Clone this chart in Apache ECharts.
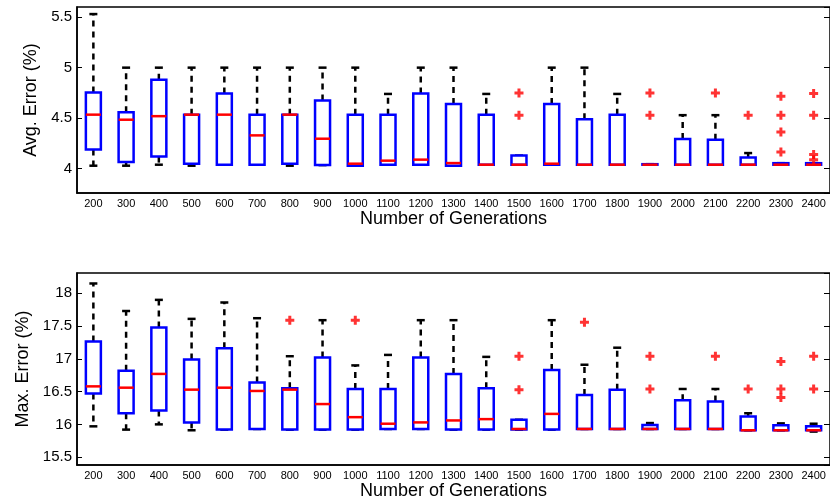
<!DOCTYPE html>
<html>
<head>
<meta charset="utf-8">
<script src="https://cdn.jsdelivr.net/npm/echarts@6/dist/echarts.min.js"></script>
<style>
html,body{margin:0;padding:0;background:#fff;}
#chart{width:830px;height:502px;}
</style>
</head>
<body>
<div id="chart"></div>
<script>
// ---- data ----
const generations = ['200','300','400','500','600','700','800','900','1000','1100','1200','1300','1400','1500','1600','1700','1800','1900','2000','2100','2200','2300','2400'];

// Avg. Error (%) box statistics
const avgLow    = [4.03, 4.03, 4.04, 4.03, 4.04, 4.04, 4.03, 4.036, 4.03, 4.04, 4.04, 4.03, 4.04, 4.04, 4.04, 4.04, 4.04, 4.04, 4.04, 4.04, 4.04, 4.04, 4.04];
const avgQ1     = [4.19, 4.066, 4.12, 4.05, 4.04, 4.04, 4.05, 4.036, 4.03, 4.04, 4.04, 4.03, 4.04, 4.04, 4.04, 4.04, 4.04, 4.04, 4.04, 4.04, 4.04, 4.04, 4.04];
const avgMedian = [4.535, 4.485, 4.52, 4.535, 4.535, 4.33, 4.535, 4.297, 4.05, 4.08, 4.09, 4.056, 4.04, 4.04, 4.05, 4.04, 4.04, 4.04, 4.04, 4.04, 4.04, 4.04, 4.04];
const avgQ3     = [4.755, 4.56, 4.88, 4.535, 4.745, 4.535, 4.535, 4.676, 4.535, 4.535, 4.745, 4.64, 4.535, 4.13, 4.64, 4.49, 4.535, 4.045, 4.294, 4.287, 4.11, 4.055, 4.055];
const avgHigh   = [5.53, 5.0, 5.0, 5.0, 5.0, 5.0, 5.0, 5.0, 5.0, 4.74, 5.0, 5.0, 4.74, 4.13, 5.0, 5.0, 4.74, 4.045, 4.53, 4.53, 4.155, 4.055, 4.055];
const avgOutlierGen = ['1500','1500','1900','1900','2100','2200','2300','2300','2300','2300','2400','2400','2400','2400'];
const avgOutlierVal = [4.75, 4.53, 4.75, 4.53, 4.75, 4.53, 4.716, 4.53, 4.363, 4.165, 4.745, 4.53, 4.14, 4.09];

// Max. Error (%) box statistics
const maxLow    = [15.97, 15.92, 16.0, 15.91, 15.92, 15.93, 15.92, 15.92, 15.92, 15.93, 15.93, 15.92, 15.92, 15.92, 15.92, 15.93, 15.93, 15.93, 15.93, 15.93, 15.91, 15.91, 15.89];
const maxQ1     = [16.47, 16.17, 16.21, 16.03, 15.92, 15.93, 15.92, 15.92, 15.92, 15.93, 15.93, 15.92, 15.92, 15.92, 15.92, 15.93, 15.93, 15.93, 15.93, 15.93, 15.91, 15.91, 15.91];
const maxMedian = [16.58, 16.56, 16.77, 16.53, 16.56, 16.51, 16.53, 16.31, 16.11, 16.01, 16.03, 16.06, 16.08, 15.93, 16.16, 15.93, 15.93, 15.93, 15.93, 15.93, 15.91, 15.91, 15.91];
const maxQ3     = [17.265, 16.82, 17.48, 16.99, 17.16, 16.64, 16.55, 17.02, 16.54, 16.54, 17.02, 16.77, 16.55, 16.07, 16.83, 16.45, 16.53, 15.99, 16.37, 16.35, 16.12, 15.985, 15.97];
const maxHigh   = [18.15, 17.73, 17.90, 17.61, 17.86, 17.62, 17.04, 17.59, 16.90, 17.06, 17.59, 17.59, 17.03, 16.07, 17.59, 16.91, 17.17, 16.02, 16.54, 16.54, 16.17, 16.015, 16.01];
const maxOutlierGen = ['800','1000','1500','1500','1700','1900','1900','2100','2200','2300','2300','2300','2400','2400'];
const maxOutlierVal = [17.59, 17.59, 17.04, 16.53, 17.56, 17.04, 16.54, 17.04, 16.54, 16.96, 16.54, 16.41, 17.04, 16.54];

const yTitles = ['Avg. Error (%)', 'Max. Error (%)'];
const xTitle = 'Number of Generations';

// ---- chart ----
const FONT = '"Liberation Sans", Arial, Helvetica, sans-serif';
const boxData = (lo, q1, md, q3, hi) => generations.map((g, i) => [i, lo[i], q1[i], md[i], q3[i], hi[i]]);
const outData = (gs, vs) => gs.map((g, i) => [g, vs[i]]);

function renderBox(params, api) {
  const i = api.value(0);
  const pLo = api.coord([i, api.value(1)]);
  const pQ1 = api.coord([i, api.value(2)]);
  const pMd = api.coord([i, api.value(3)]);
  const pQ3 = api.coord([i, api.value(4)]);
  const pHi = api.coord([i, api.value(5)]);
  const cx = pLo[0];
  const bw = 15, cw = 8;
  const dash = { stroke: '#000', lineWidth: 2.5, lineDash: [6, 5], fill: null };
  const solid = { stroke: '#000', lineWidth: 2.5, fill: null };
  const ch = [];
  if (pHi[1] < pQ3[1] - 0.5) ch.push({ type: 'line', shape: { x1: cx, y1: pQ3[1], x2: cx, y2: pHi[1] }, style: dash });
  if (pLo[1] > pQ1[1] + 0.5) ch.push({ type: 'line', shape: { x1: cx, y1: pQ1[1], x2: cx, y2: pLo[1] }, style: dash });
  ch.push({ type: 'line', shape: { x1: cx - cw / 2, y1: pHi[1], x2: cx + cw / 2, y2: pHi[1] }, style: solid });
  ch.push({ type: 'line', shape: { x1: cx - cw / 2, y1: pLo[1], x2: cx + cw / 2, y2: pLo[1] }, style: solid });
  ch.push({ type: 'rect', shape: { x: cx - bw / 2, y: pQ3[1], width: bw, height: Math.max(pQ1[1] - pQ3[1], 0.5) },
            style: { fill: '#fff', stroke: '#0000ff', lineWidth: 2.5 } });
  ch.push({ type: 'line', shape: { x1: cx - bw / 2, y1: pMd[1], x2: cx + bw / 2, y2: pMd[1] }, style: { stroke: '#ff0000', lineWidth: 2.5 } });
  return { type: 'group', children: ch };
}

const plus = 'path://M3,0H6V3H9V6H6V9H3V6H0V3H3Z';

function xAx(gi) {
  return {
    gridIndex: gi, type: 'category', data: generations, boundaryGap: true,
    axisLine: { show: true, lineStyle: { color: '#000', width: 1.5 } },
    axisTick: { show: false },
    axisLabel: { interval: 0, fontSize: 11, color: '#000', margin: 5, fontFamily: FONT },
    name: xTitle, nameLocation: 'middle', nameGap: 15,
    nameTextStyle: { fontSize: 18, color: '#000', fontFamily: FONT },
    splitLine: { show: false }
  };
}
function yAx(gi, min, max, title) {
  return {
    gridIndex: gi, type: 'value', min: min, max: max, minInterval: 0.5, maxInterval: 0.5,
    axisLine: { show: true, lineStyle: { color: '#000', width: 1.5 } },
    axisTick: { show: true, inside: true, length: 5, lineStyle: { color: '#000' } },
    axisLabel: { fontSize: 15, color: '#000', margin: 5, fontFamily: FONT, showMinLabel: false, showMaxLabel: false },
    splitLine: { show: false },
    name: title, nameLocation: 'middle', nameGap: 34, nameRotate: 90,
    nameTextStyle: { fontSize: 18, color: '#000', fontFamily: FONT }
  };
}
function yAxR(gi, min, max) {
  return {
    gridIndex: gi, type: 'value', position: 'right', min: min, max: max, minInterval: 0.5, maxInterval: 0.5,
    axisLine: { show: false },
    axisTick: { show: true, inside: true, length: 6, lineStyle: { color: '#000' } },
    axisLabel: { show: false }, splitLine: { show: false }
  };
}

const chart = echarts.init(document.getElementById('chart'), null, { renderer: 'canvas' });
chart.setOption({
  animation: false,
  backgroundColor: '#fff',
  textStyle: { fontFamily: FONT },
  grid: [
    { left: 77, top: 7, width: 754, height: 186, show: true, borderColor: '#000', borderWidth: 1.5, backgroundColor: 'transparent' },
    { left: 77, top: 273, width: 754, height: 192, show: true, borderColor: '#000', borderWidth: 1.5, backgroundColor: 'transparent' }
  ],
  xAxis: [xAx(0), xAx(1)],
  yAxis: [yAx(0, 3.76, 5.6, yTitles[0]), yAx(1, 15.38, 18.31, yTitles[1]), yAxR(0, 3.76, 5.6), yAxR(1, 15.38, 18.31)],
  series: [
    { type: 'custom', xAxisIndex: 0, yAxisIndex: 0, renderItem: renderBox,
      encode: { x: 0, y: [1, 2, 3, 4, 5] }, data: boxData(avgLow, avgQ1, avgMedian, avgQ3, avgHigh), z: 2 },
    { type: 'scatter', xAxisIndex: 0, yAxisIndex: 0, symbol: plus, symbolSize: 9,
      itemStyle: { color: '#ff0000' }, data: outData(avgOutlierGen, avgOutlierVal), z: 3 },
    { type: 'custom', xAxisIndex: 1, yAxisIndex: 1, renderItem: renderBox,
      encode: { x: 0, y: [1, 2, 3, 4, 5] }, data: boxData(maxLow, maxQ1, maxMedian, maxQ3, maxHigh), z: 2 },
    { type: 'scatter', xAxisIndex: 1, yAxisIndex: 1, symbol: plus, symbolSize: 9,
      itemStyle: { color: '#ff0000' }, data: outData(maxOutlierGen, maxOutlierVal), z: 3 }
  ]
});
</script>
</body>
</html>
